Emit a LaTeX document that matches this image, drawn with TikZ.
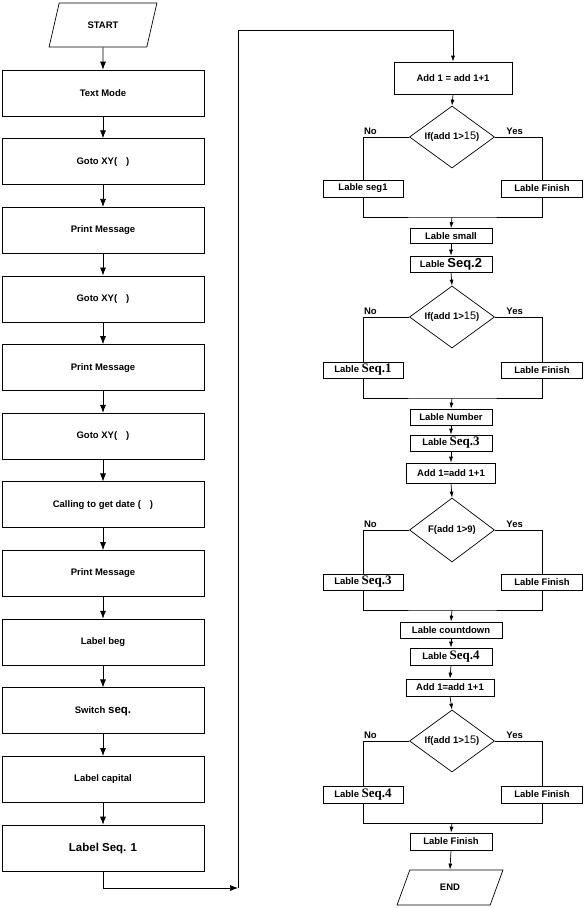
\documentclass[tikz,border=0pt]{standalone}
\usepackage{fontspec}
\setmainfont{Liberation Sans}
\newfontfamily\seqfont{Liberation Serif}
\usetikzlibrary{arrows.meta,shapes.geometric}

\newcommand{\Seq}[1]{{\seqfont\fontsize{13}{14}\selectfont #1}}
\newcommand{\Lrg}[1]{{\fontsize{11.5}{13}\selectfont #1}}

\begin{document}
\begin{tikzpicture}[x=1pt,y=-1pt,line width=0.7pt,
    every node/.style={font=\fontsize{9.5}{10}\selectfont\bfseries},
    box/.style={draw,minimum width=202pt,minimum height=46pt,inner sep=0pt},
    sbox/.style={draw,minimum height=16pt,inner sep=0pt},
    cond/.style={draw,diamond,aspect=1.4,minimum width=85pt,minimum height=62pt,inner sep=0pt},
    io/.style={draw,trapezium,trapezium stretches=true,inner sep=0pt},
    arr/.style={-{Latex[length=8pt,width=6pt]}},
    sarr/.style={-{Latex[length=6pt,width=4pt]}},
   ]
   \useasboundingbox (0,0) rectangle (586,908);
   % left column
   \node[io,trapezium left angle=62,trapezium right angle=118,
     minimum width=108pt,minimum height=44pt] (S) at (103,25) {START};
   \foreach \t [count=\i] in {Text Mode, Goto XY(\hspace{9pt}), Print Message,
       Goto XY(\hspace{9pt}), Print Message, Goto XY(\hspace{9pt}),
       Calling to get date (\hspace{9pt}), Print Message, Label beg,
       Switch \Lrg{seq.}, Label capital, \Lrg{Label Seq. 1}}
     \node[box] (L\i) at (103,{93+68.64*(\i-1)}) {\t};
   \draw[arr] (S.south) -- (L1.north);
   \foreach \i [evaluate=\i as \j using int(\i+1)] in {1,...,11}
     \draw[arr] (L\i.south) -- (L\j.north);
   % jump to the right column
   \coordinate (turn) at (238,888);
   \coordinate (top) at (238,30);
   % right column
   \node[sbox,minimum width=118pt,minimum height=32pt] (A1) at (453,78) {Add 1 = add 1+1};
   \node[cond] (D1) at (452,137) {If(add 1>{\fontsize{11}{12}\selectfont\mdseries 15})};
   \node[sbox,minimum width=80pt,minimum height=17pt] (N1) at (363,188.5) {Lable seg1};
   \node[sbox,minimum width=81pt,minimum height=17pt] (F1) at (542,188.5) {Lable Finish};
   \coordinate (J1) at (452,217);
   \node[sbox,minimum width=82pt,minimum height=15pt] (SM) at (451,236) {Lable small};
   \node[sbox,minimum width=82pt] (Q2) at (451,264) {Lable {\fontsize{13}{14}\selectfont Seq.2}};
   \node[cond] (D2) at (452,317) {If(add 1>{\fontsize{11}{12}\selectfont\mdseries 15})};
   \node[sbox,minimum width=80pt] (N2) at (363,370) {Lable \Seq{Seq.1}};
   \node[sbox,minimum width=81pt] (F2) at (542,370) {Lable Finish};
   \coordinate (J2) at (452,398);
   \node[sbox,minimum width=82pt] (NU) at (451,417) {Lable Number};
   \node[sbox,minimum width=82pt] (Q3) at (451,443) {Lable \Seq{Seq.3}};
   \node[sbox,minimum width=89pt,minimum height=20pt] (A2) at (451,473) {Add 1=add 1+1};
   \node[cond,minimum height=64pt] (D3) at (452,530) {F(add 1>9)};
   \node[sbox,minimum width=80pt] (N3) at (363,582) {Lable \Seq{Seq.3}};
   \node[sbox,minimum width=81pt] (F3) at (542,582) {Lable Finish};
   \coordinate (J3) at (452,610);
   \node[sbox,minimum width=102pt] (CD) at (451,630) {Lable countdown};
   \node[sbox,minimum width=82pt,minimum height=17pt] (Q4) at (451,656.5) {Lable \Seq{Seq.4}};
   \node[sbox,minimum width=88pt,minimum height=17pt] (A3) at (450,687.5) {Add 1=add 1+1};
   \node[cond] (D4) at (452,741) {If(add 1>{\fontsize{11}{12}\selectfont\mdseries 15})};
   \node[sbox,minimum width=80pt,minimum height=17pt] (N4) at (363,794.5) {Lable \Seq{Seq.4}};
   \node[sbox,minimum width=81pt,minimum height=17pt] (F4) at (542,794.5) {Lable Finish};
   \coordinate (J4) at (452,823);
   \node[sbox,minimum width=82pt,minimum height=17pt] (FI) at (451,841.5) {Lable Finish};
   \node[io,trapezium left angle=64,trapezium right angle=116,
     minimum width=106pt,minimum height=35pt] (E) at (450,887.5) {END};
   % connectors
   \draw[arr] (L12.south) |- (turn);
   \draw[sarr] (turn) -- (top) -| (A1.north);
   \draw[sarr] (A1.south) -- (D1.north);
   \draw[sarr] (J1) -- (SM.north);
   \draw[sarr] (SM.south) -- (Q2.north);
   \draw[sarr] (Q2.south) -- (D2.north);
   \draw[sarr] (J2) -- (NU.north);
   \draw[sarr] (NU.south) -- (Q3.north);
   \draw[sarr] (Q3.south) -- (A2.north);
   \draw[sarr] (A2.south) -- (D3.north);
   \draw[sarr] (J3) -- (CD.north);
   \draw[sarr] (CD.south) -- (Q4.north);
   \draw[sarr] (Q4.south) -- (A3.north);
   \draw[sarr] (A3.south) -- (D4.north);
   \draw[sarr] (J4) -- (FI.north);
   \draw[sarr] (FI.south) -- (E.north);
   \foreach \k in {1,...,4} {
     \draw (D\k.west) -| node[pos=0.42,above,inner sep=2pt] {No} (N\k.north);
     \draw (D\k.east) -| node[pos=0.21,above,inner sep=2pt] {Yes} (F\k.north);
     \draw (N\k.south) |- (J\k) -| (F\k.south);
   }
\end{tikzpicture}
\end{document}
